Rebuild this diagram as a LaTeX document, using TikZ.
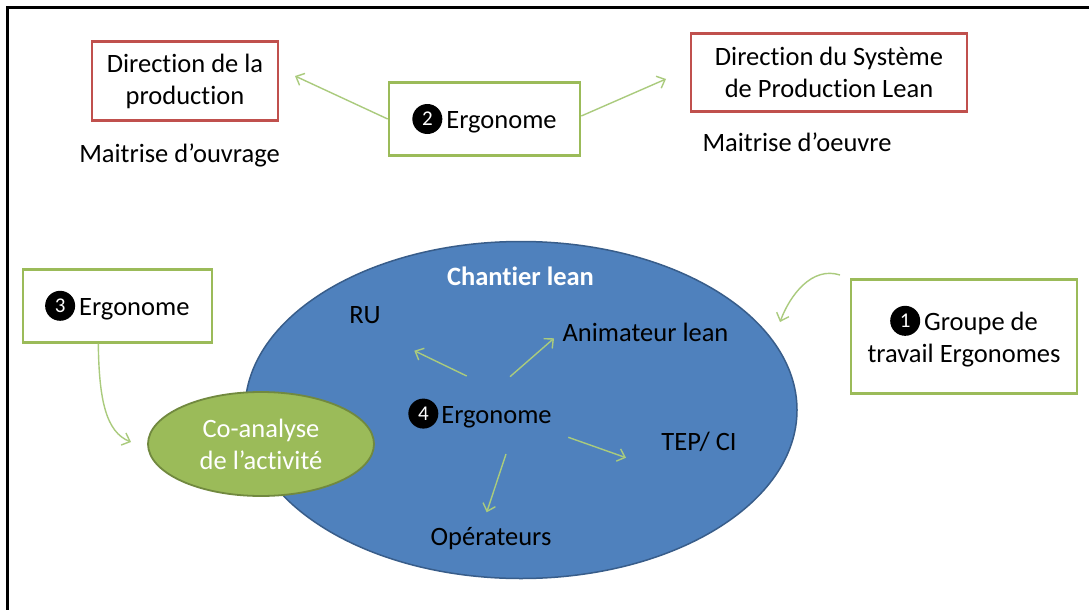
\documentclass[tikz,border=0pt]{standalone}
\usepackage{fontspec}
\setmainfont{Carlito}[Ligatures=NoCommon]
\usetikzlibrary{shapes.geometric,arrows.meta}
\definecolor{boxred}{RGB}{192,80,77}
\definecolor{boxgreen}{RGB}{155,187,89}
\definecolor{bluefill}{RGB}{79,129,189}
\definecolor{blueborder}{RGB}{56,93,138}
\definecolor{cofill}{RGB}{155,187,89}
\definecolor{coborder}{RGB}{113,137,63}
\definecolor{arrgreen}{RGB}{170,203,125}
\tikzset{
  redbox/.style={draw=boxred,line width=2.6pt,fill=white,align=center,inner sep=0pt},
  greenbox/.style={draw=boxgreen,line width=2.6pt,fill=white,align=center,inner sep=0pt},
  txt/.style={font=\fontsize{26.5}{32}\selectfont,text=black,inner sep=0pt},
  arr/.style={draw=arrgreen,line width=1.4pt,-{Straight Barb[length=7pt,width=13pt]}},
  numdot/.style={circle,fill=black,text=white,inner sep=0pt,minimum width=30pt,minimum height=30pt,font=\fontsize{21}{21}\selectfont},
}
\newcommand{\numc}[1]{\tikz[baseline={([yshift=-9.4pt]n.center)}]\node[numdot](n){#1};}
\begin{document}
\begin{tikzpicture}[x=1pt,y=-1pt]
\useasboundingbox (0,0) rectangle (1089,610);
\fill[white] (0,0) rectangle (1089,610);
\draw[line width=2.8pt] (7.8,610) -- (7.8,7.5) -- (1089,7.5);

% top row
\node[redbox,txt,minimum width=186pt,minimum height=79pt] (dp) at (185,81) {Direction de la\\production};
\node[txt,anchor=base] (mo) at (179.5,162.7) {Maitrise d’ouvrage};
\node[greenbox,txt,minimum width=191pt,minimum height=73pt] (e2) at (484.5,119) {\numc{2}\hspace{4pt}Ergonome};
\node[redbox,txt,minimum width=276pt,minimum height=78pt] (ds) at (829,72.5) {Direction du Système\\de Production Lean};
\node[txt,anchor=base] (moe) at (797,151.7) {Maitrise d’oeuvre};

\coordinate (a1) at (295,76);
\coordinate (a2) at (666,79);
\draw[arr] (e2.west) -- (a1);
\draw[arr] ([yshift=3pt]e2.east) -- (a2);

% big ellipse
\node[ellipse,draw=blueborder,fill=bluefill,line width=1.5pt,minimum width=552pt,minimum height=337pt,inner sep=0pt] (lean) at (521,410) {};
\node[txt,font=\fontsize{26.5}{32}\selectfont\bfseries,text=white,anchor=base] (cl) at (520.5,285) {Chantier lean};
\node[txt,anchor=base] (ru) at (365,323) {RU};
\node[txt,anchor=base] (an) at (645.5,341.7) {Animateur lean};
\node[txt,anchor=base] (e4) at (480,423) {\numc{4}\hspace{3pt}Ergonome};
\node[txt,anchor=base] (tep) at (699,450) {TEP/ CI};
\node[txt,anchor=base] (op) at (491,545) {Opérateurs};

\coordinate (ruT) at (466.7,376);   \coordinate (ruH) at (414.3,350.7);
\coordinate (anT) at (510,376.7);   \coordinate (anH) at (554,338.3);
\coordinate (tpT) at (568.3,437.3); \coordinate (tpH) at (626,457.7);
\coordinate (opT) at (506,454);     \coordinate (opH) at (486.7,512.3);
\draw[arr] (ruT) -- (ruH);
\draw[arr] (anT) -- (anH);
\draw[arr] (tpT) -- (tpH);
\draw[arr] (opT) -- (opH);

% co-analyse
\node[ellipse,draw=coborder,fill=cofill,line width=1.8pt,minimum width=226pt,minimum height=104pt,inner sep=0pt,align=center,font=\fontsize{26.5}{32}\selectfont,text=white] (co) at (261,444) {Co-analyse\\de l’activité};

% left box 3
\node[greenbox,txt,minimum width=189pt,minimum height=73pt] (e3) at (117.3,305.8) {\numc{3}\hspace{4pt}Ergonome};
\coordinate (e3H) at (131,442);
\draw[arr] ([xshift=-19pt]e3.south) .. controls (99,400) and (106,432) .. (e3H);

% right box 1
\node[greenbox,txt,minimum width=226pt,minimum height=114pt] (g1) at (964,336.3) {\numc{1}\hspace{4pt}Groupe de\\travail Ergonomes};
\coordinate (g1T) at (840,275);
\coordinate (g1H) at (780,322);
\draw[arr] (g1T) .. controls (812,266) and (790,295) .. (g1H);
\end{tikzpicture}
\end{document}
